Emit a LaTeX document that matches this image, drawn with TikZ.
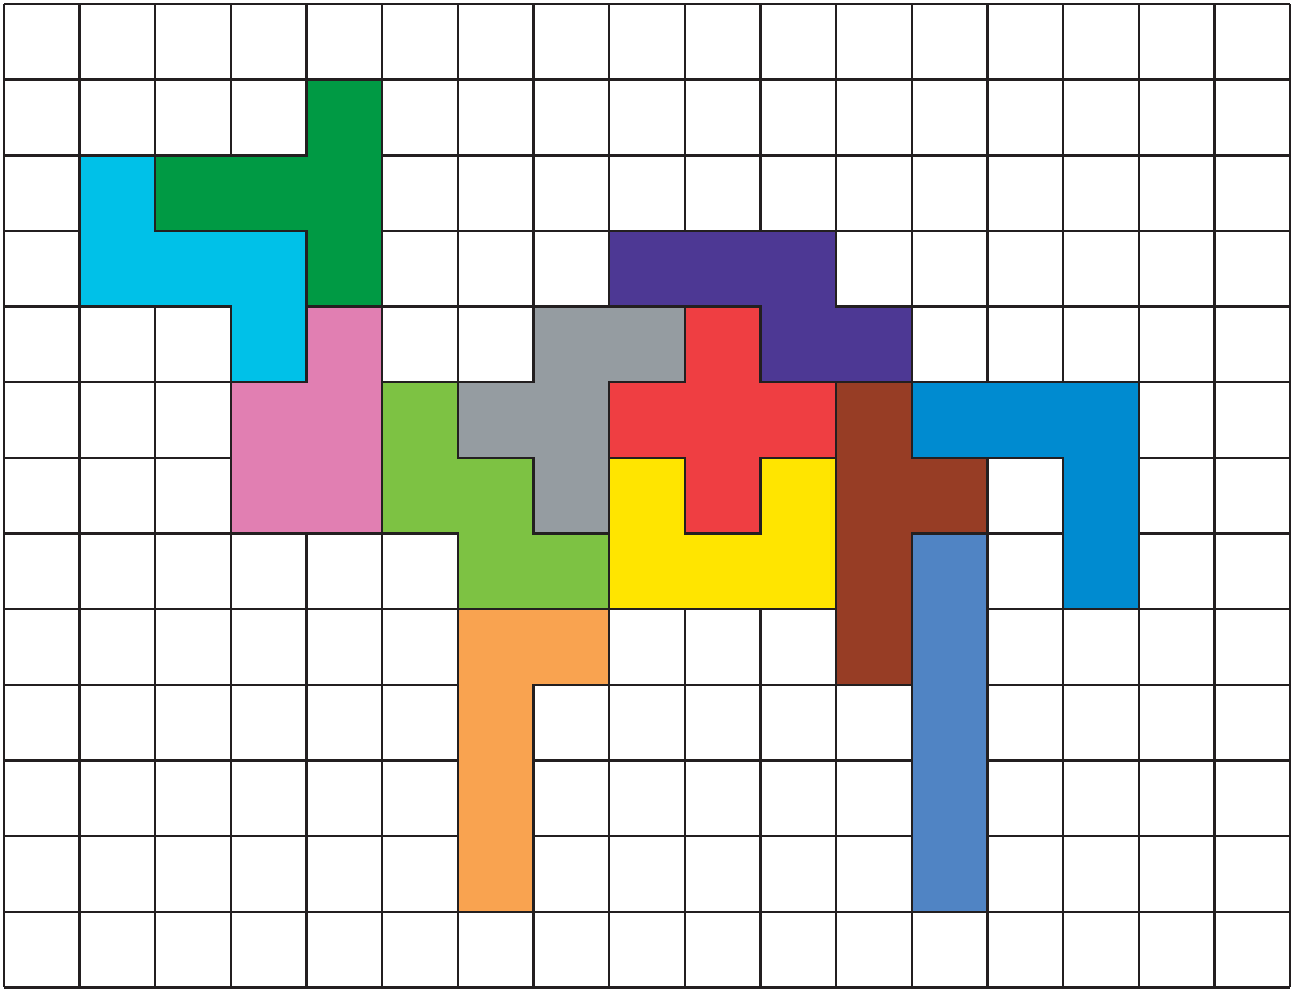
\documentclass[tikz,border=0pt]{standalone}
\definecolor{cgreen}{HTML}{009A44}
\definecolor{ccyan}{HTML}{00C1E8}
\definecolor{cpink}{HTML}{E17FB2}
\definecolor{clgreen}{HTML}{7DC243}
\definecolor{cgray}{HTML}{959CA1}
\definecolor{cpurple}{HTML}{4D3894}
\definecolor{cred}{HTML}{EF3E42}
\definecolor{cyellow}{HTML}{FFE500}
\definecolor{cbrown}{HTML}{973D25}
\definecolor{cblue}{HTML}{008BD0}
\definecolor{csteel}{HTML}{5084C4}
\definecolor{corange}{HTML}{F9A350}
\definecolor{gridc}{HTML}{231F20}
\begin{document}
\begin{tikzpicture}[yscale=-1,
  piece/.style={draw=gridc,line width=0.9pt,line join=miter}]
\useasboundingbox (-0.053,-0.053) rectangle (17.053,13.017);
\draw[gridc,line width=0.9pt] (0,0) grid (17,13);
\filldraw[piece,fill=cgreen] (4,1)--(5,1)--(5,4)--(4,4)--(4,3)--(2,3)--(2,2)--(4,2)--cycle;
\filldraw[piece,fill=ccyan] (1,2)--(2,2)--(2,3)--(4,3)--(4,5)--(3,5)--(3,4)--(1,4)--cycle;
\filldraw[piece,fill=cpink] (4,4)--(5,4)--(5,7)--(3,7)--(3,5)--(4,5)--cycle;
\filldraw[piece,fill=clgreen] (5,5)--(6,5)--(6,6)--(7,6)--(7,7)--(8,7)--(8,8)--(6,8)--(6,7)--(5,7)--cycle;
\filldraw[piece,fill=cgray] (7,4)--(9,4)--(9,5)--(8,5)--(8,7)--(7,7)--(7,6)--(6,6)--(6,5)--(7,5)--cycle;
\filldraw[piece,fill=cpurple] (8,3)--(11,3)--(11,4)--(12,4)--(12,5)--(10,5)--(10,4)--(8,4)--cycle;
\filldraw[piece,fill=cred] (9,4)--(10,4)--(10,5)--(11,5)--(11,6)--(10,6)--(10,7)--(9,7)--(9,6)--(8,6)--(8,5)--(9,5)--cycle;
\filldraw[piece,fill=cyellow] (8,6)--(9,6)--(9,7)--(10,7)--(10,6)--(11,6)--(11,8)--(8,8)--cycle;
\filldraw[piece,fill=cbrown] (11,5)--(12,5)--(12,6)--(13,6)--(13,7)--(12,7)--(12,9)--(11,9)--cycle;
\filldraw[piece,fill=cblue] (12,5)--(15,5)--(15,8)--(14,8)--(14,6)--(12,6)--cycle;
\filldraw[piece,fill=csteel] (12,7)--(13,7)--(13,12)--(12,12)--cycle;
\filldraw[piece,fill=corange] (6,8)--(8,8)--(8,9)--(7,9)--(7,12)--(6,12)--cycle;
\end{tikzpicture}
\end{document}
